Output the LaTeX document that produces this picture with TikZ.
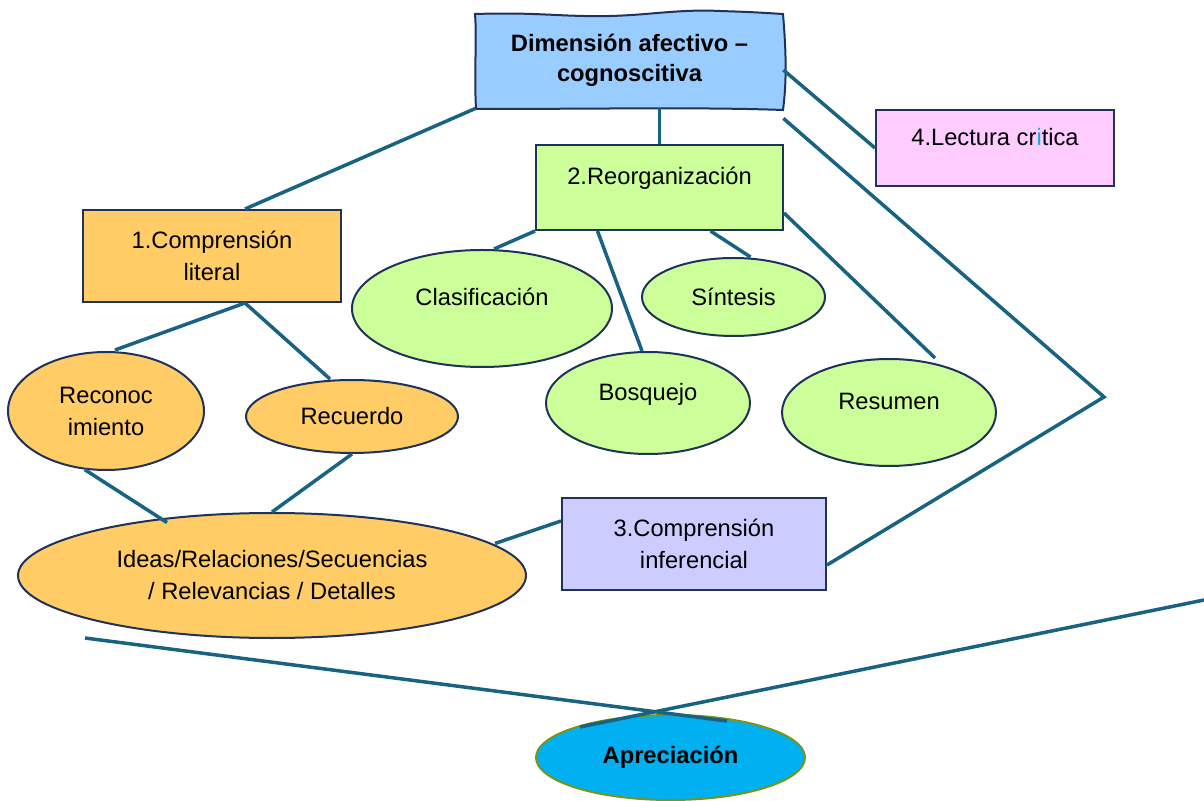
\documentclass[tikz,border=0pt]{standalone}
\usepackage{fontspec}
\setmainfont{Liberation Sans}
\usetikzlibrary{calc,shapes.geometric}

\definecolor{linkblue}{RGB}{24,98,130}
\definecolor{edgenavy}{RGB}{31,50,90}
\definecolor{dimblue}{RGB}{153,204,255}
\definecolor{critpink}{RGB}{255,204,255}
\definecolor{reorggreen}{RGB}{204,255,153}
\definecolor{litorange}{RGB}{255,204,102}
\definecolor{infviolet}{RGB}{204,204,255}
\definecolor{apreblue}{RGB}{0,176,240}
\definecolor{apreolive}{RGB}{120,150,20}

\begin{document}
\begin{tikzpicture}[x=0.5pt,y=-0.5pt,
  font=\fontsize{11.85}{16}\selectfont,
  box/.style={rectangle,draw=edgenavy,line width=1pt,inner sep=0pt,align=center},
  oval/.style={ellipse,draw=edgenavy,line width=1pt,inner sep=0pt,align=center},
  raised/.style={text height=9pt,text depth=11.5pt},
  link/.style={draw=linkblue,line width=1.75pt}]
\useasboundingbox (0,0) rectangle (1204,801);

% hand drawn title box
\path[fill=dimblue,draw=edgenavy,line width=1pt]
  (475,14) .. controls (540,12) and (560,17) .. (610,16)
  .. controls (650,15) and (680,9) .. (720,11)
  .. controls (750,12) .. (783,14)
  .. controls (786,50) and (787,80) .. (783,110)
  .. controls (700,107) and (600,109) .. (476,109)
  .. controls (474,70) and (477,40) .. cycle;
\node[font=\fontsize{11.85}{15}\selectfont\bfseries,align=center,inner sep=0pt,
  minimum width=153.5pt,minimum height=48pt] (dim) at (629.5,60) {Dimensión afectivo –\\cognoscitiva};

\node[box,fill=critpink,raised,minimum width=119pt,minimum height=38pt] (crit) at (995,148) {4.Lectura cr{\color{apreblue}i}tica};
\node[box,fill=reorggreen,raised,minimum width=123.5pt,minimum height=42.5pt] (reorg) at (659.5,187.5) {2.Reorganización};
\node[box,fill=litorange,minimum width=129pt,minimum height=46pt] (lit) at (212,256) {1.Comprensión\\literal};
\node[box,fill=infviolet,minimum width=132pt,minimum height=46pt] (inf) at (694,544) {3.Comprensión\\inferencial};

\node[oval,fill=reorggreen,raised,minimum width=130pt,minimum height=58.5pt] (clas) at (482,308.5) {Clasificación};
\node[oval,fill=reorggreen,minimum width=91.5pt,minimum height=39pt] (sint) at (733.5,297) {Síntesis};
\node[oval,fill=reorggreen,raised,minimum width=102pt,minimum height=51pt] (bosq) at (648,403) {Bosquejo};
\node[oval,fill=reorggreen,raised,minimum width=107pt,minimum height=53.5pt] (res) at (889,412.5) {Resumen};
\node[oval,fill=litorange,minimum width=98pt,minimum height=59pt] (recon) at (106,411) {Reconoc\\imiento};
\node[oval,fill=litorange,minimum width=106pt,minimum height=36.5pt] (rec) at (352,416.5) {Recuerdo};
\node[oval,fill=litorange,minimum width=254pt,minimum height=62.5pt] (ideas) at (272,575.5) {Ideas/Relaciones/Secuencias\\/ Relevancias / Detalles};
\node[oval,fill=apreblue,draw=apreolive,font=\fontsize{11.85}{16}\selectfont\bfseries,
  minimum width=134.5pt,minimum height=42.5pt] (apre) at (670.5,757.5) {Apreciación};

\path[link]
(dim.south west) edge ($(lit.north)+(33,0)$)
(reorg.north |- dim.south) edge (reorg.north)
($(dim.east)+(0,10)$) edge (crit.west)
($(lit.south)+(33,0)$) edge ($(recon.north)+(9,-1)$)
($(lit.south)+(33,0)$) edge ($(rec.north)+(-22,0)$)
(recon.-110) edge ($(ideas.center)+(-105,-53)$)
(rec.south) edge (ideas.north)
(reorg.south west) edge ($(clas.north)+(12,0)$)
($(reorg.south)+(-62,0)$) edge ($(bosq.north)+(-6,0)$)
($(reorg.south)+(51,0)$) edge ($(sint.north)+(17,0)$)
($(reorg.south east)+(0,-18)$) edge ($(res.north)+(46,0)$)
($(ideas.center)+(223,-32)$) edge ($(inf.west)+(0,-23)$);

\coordinate (tip) at (1104,397);
\coordinate (leftend) at (85,638);
\coordinate (rightend) at (1204,600);
\draw[link] ($(dim.south east)+(0,10)$) -- (tip) -- ($(inf.east)+(0,21)$);
\draw[link] (leftend) -- ($(apre.center)+(56.5,-36.5)$);
\draw[link] (rightend) -- ($(apre.center)+(-90.5,-30.5)$);
\end{tikzpicture}
\end{document}
